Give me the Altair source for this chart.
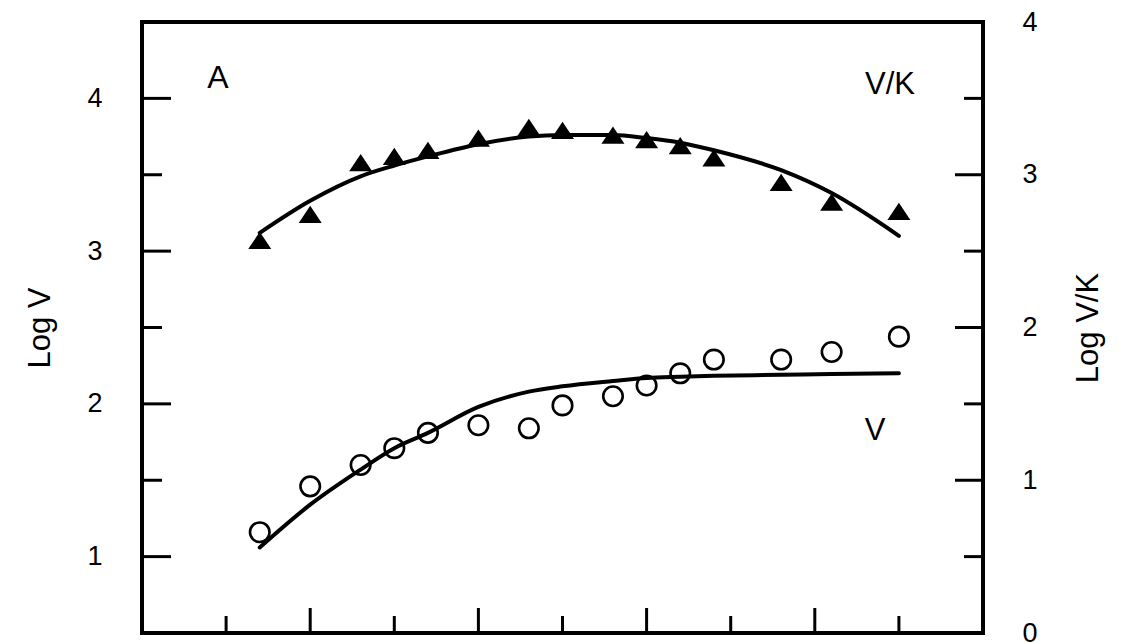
import altair as alt
import pandas as pd

# ---- data ----
ph = [4.7, 5.0, 5.3, 5.5, 5.7, 6.0, 6.3, 6.5, 6.8, 7.0, 7.2, 7.4, 7.8, 8.1, 8.5]
log_v = [1.16, 1.46, 1.60, 1.71, 1.81, 1.86, 1.84, 1.99, 2.05, 2.12, 2.20, 2.29, 2.29, 2.34, 2.44]
log_vk = [2.57, 2.74, 3.08, 3.12, 3.16, 3.24, 3.31, 3.29, 3.26, 3.23, 3.19, 3.11, 2.95, 2.82, 2.76]
fit_v = [1.06, 1.34, 1.57, 1.71, 1.81, 1.98, 2.08, 2.115, 2.15, 2.17, 2.178, 2.184, 2.19, 2.195, 2.20]
fit_vk = [2.62, 2.83, 2.99, 3.06, 3.12, 3.20, 3.25, 3.26, 3.26, 3.24, 3.21, 3.16, 3.03, 2.88, 2.60]

left_major = [1, 2, 3, 4]
left_minor = [1.5, 2.5, 3.5]
right_labels = [0, 1, 2, 3, 4]
right_major = [1, 2, 3]
right_minor = [0.5, 1.5, 2.5, 3.5]
x_major = [5, 6, 7, 8]
x_minor = [4.5, 5.5, 6.5, 7.5, 8.5]
annotations = ["A", "V/K", "V"]

W, H = 841, 611
FONT = "Liberation Sans"

xs = alt.Scale(domain=[4, 9], nice=False, zero=False)
ys_left = alt.Scale(domain=[0.5, 4.5], nice=False, zero=False)
ys_right = alt.Scale(domain=[0, 4], nice=False, zero=False)

df = pd.DataFrame({"pH": ph, "logV": log_v, "logVK": log_vk,
                   "fitV": fit_v, "fitVK": fit_vk})

common = dict(ticks=False, domain=False, grid=False, labelFlush=False, labelOverlap=False,
              labelFont=FONT, labelFontSize=27, labelColor="black",
              titleFont=FONT, titleFontSize=31, titleColor="black", titleFontWeight="normal",
              titleAngle=270, titleY=H / 2, titleAlign="center", titleBaseline="middle")
left_axis = alt.Axis(values=left_major, labelPadding=40, title="Log V", titleX=-102, **common)
right_axis = alt.Axis(orient="right", values=right_labels, labelPadding=39,
                      title="Log V/K", titleX=105, **common)

X = alt.X("pH:Q", scale=xs, axis=None)

# ---- left (Log V) group ----
circles = alt.Chart(df).mark_point(shape="circle", filled=False, stroke="black",
                                   strokeWidth=2.6, size=380, opacity=1).encode(
    x=X, y=alt.Y("logV:Q", scale=ys_left, axis=left_axis))
v_line = alt.Chart(df).mark_line(color="black", strokeWidth=4, interpolate="monotone",
                                 strokeCap="round").encode(
    x=X, y=alt.Y("fitV:Q", scale=ys_left, axis=left_axis))

lmaj = alt.Chart(pd.DataFrame({"v": left_major})).mark_rule(color="black", strokeWidth=3).encode(
    y=alt.Y("v:Q", scale=ys_left, axis=left_axis), x=alt.value(0), x2=alt.value(29))
lmin = alt.Chart(pd.DataFrame({"v": left_minor})).mark_rule(color="black", strokeWidth=3).encode(
    y=alt.Y("v:Q", scale=ys_left, axis=left_axis), x=alt.value(0), x2=alt.value(20))

xmaj = alt.Chart(pd.DataFrame({"t": x_major})).mark_rule(color="black", strokeWidth=3).encode(
    x=alt.X("t:Q", scale=xs, axis=None), y=alt.value(H), y2=alt.value(H - 25))
xmin = alt.Chart(pd.DataFrame({"t": x_minor})).mark_rule(color="black", strokeWidth=3).encode(
    x=alt.X("t:Q", scale=xs, axis=None), y=alt.value(H), y2=alt.value(H - 17))

ann_pos = [(76, 56, 32), (748, 63, 31), (733, 409, 31)]
texts = []
for label, (px, py, fs) in zip(annotations, ann_pos):
    texts.append(alt.Chart(pd.DataFrame({"t": [label]})).mark_text(
        font=FONT, fontSize=fs, color="black", align="center", baseline="middle").encode(
        text="t:N", x=alt.value(px), y=alt.value(py)))

left = alt.layer(circles, v_line, lmaj, lmin, xmaj, xmin, *texts)

# ---- right (Log V/K) group ----
tri = alt.Chart(df).mark_point(shape="M0,-0.75L1,0.75L-1,0.75Z", filled=True, color="black",
                               size=529, opacity=1, strokeWidth=0).encode(
    x=X, y=alt.Y("logVK:Q", scale=ys_right, axis=right_axis))
vk_line = alt.Chart(df).mark_line(color="black", strokeWidth=4, interpolate="monotone",
                                  strokeCap="round").encode(
    x=X, y=alt.Y("fitVK:Q", scale=ys_right, axis=right_axis))
rmaj = alt.Chart(pd.DataFrame({"v": right_major})).mark_rule(color="black", strokeWidth=3).encode(
    y=alt.Y("v:Q", scale=ys_right, axis=right_axis), x=alt.value(W), x2=alt.value(W - 28))
rmin = alt.Chart(pd.DataFrame({"v": right_minor})).mark_rule(color="black", strokeWidth=3).encode(
    y=alt.Y("v:Q", scale=ys_right, axis=right_axis), x=alt.value(W), x2=alt.value(W - 19))

right = alt.layer(tri, vk_line, rmaj, rmin)

chart = alt.layer(left, right).resolve_scale(y="independent").properties(
    width=W, height=H,
    padding={"left": 142, "top": 22, "right": 143, "bottom": 10},
    autosize=alt.AutoSizeParams(type="none"),
    background="white",
).configure_view(stroke="black", strokeWidth=4)

chart.save("out.html", embed_options={"renderer": "svg", "actions": False})
